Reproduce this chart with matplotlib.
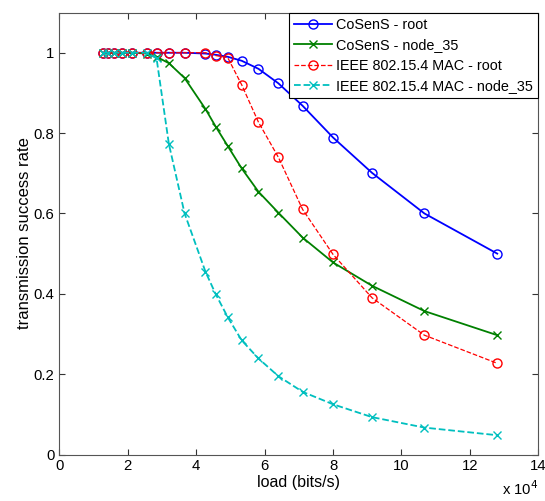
import matplotlib.pyplot as plt
from matplotlib.ticker import FuncFormatter

plt.rcParams['font.family'] = ['Liberation Sans', 'DejaVu Sans']

# load in units of 1e4 bits/s
load = [1.28, 1.42, 1.6, 1.83, 2.13, 2.56, 2.84, 3.2, 3.66, 4.27, 4.57, 4.92,
        5.33, 5.82, 6.4, 7.11, 8.0, 9.14, 10.67, 12.8]

cosens_root = [1.0, 1.0, 1.0, 1.0, 1.0, 1.0, 1.0, 1.0, 1.0, 0.998, 0.995, 0.99,
               0.98, 0.96, 0.924, 0.868, 0.789, 0.701, 0.60, 0.50]
cosens_node35 = [1.0, 1.0, 1.0, 1.0, 1.0, 0.998, 0.99, 0.974, 0.937, 0.86, 0.816, 0.768,
                 0.712, 0.654, 0.602, 0.54, 0.478, 0.42, 0.357, 0.297]
ieee_root = [1.0, 1.0, 1.0, 1.0, 1.0, 1.0, 1.0, 1.0, 1.0, 1.0, 0.993, 0.988,
             0.92, 0.827, 0.74, 0.61, 0.498, 0.39, 0.297, 0.227]
ieee_node35 = [1.0, 1.0, 1.0, 1.0, 1.0, 1.0, 0.986, 0.773, 0.60, 0.455, 0.399, 0.342,
               0.284, 0.239, 0.195, 0.156, 0.125, 0.093, 0.067, 0.048]

labels = ['CoSenS - root', 'CoSenS - node_35',
          'IEEE 802.15.4 MAC - root', 'IEEE 802.15.4 MAC - node_35']

fig = plt.figure(figsize=(5.45, 5.01), dpi=100)
ax = fig.add_axes([0.109, 0.0928, 0.8787, 0.8821])

ax.plot(load, cosens_root, '-o', color='#0000FF', lw=1.3, ms=6.5, mfc='none', mew=1.0, label=labels[0])
ax.plot(load, cosens_node35, '-x', color='#008000', lw=1.3, ms=6, mew=1.0, label=labels[1])
ax.plot(load, ieee_root, '--o', color='#FF0000', lw=0.9, ms=6.5, mfc='none', mew=1.0, label=labels[2])
ax.plot(load, ieee_node35, '--x', color='#00BFBF', lw=1.3, ms=6, mew=1.0, label=labels[3])

ax.set_xlim(0, 14)
ax.set_ylim(0, 1.1)
ax.set_xticks(range(0, 15, 2))
ax.set_yticks([0, 0.2, 0.4, 0.6, 0.8, 1.0])
ax.yaxis.set_major_formatter(FuncFormatter(lambda v, p: f'{v:g}'))
ax.tick_params(direction='in', top=True, right=True, length=4, width=0.8,
               labelsize=10.7, colors='#333333', labelcolor='black')
for s in ax.spines.values():
    s.set_color('#555555')
    s.set_linewidth(0.8)

ax.set_xlabel('load (bits/s)', fontsize=11.5, labelpad=1)
ax.set_ylabel('transmission success rate', fontsize=12, labelpad=1)
ax.text(1.0, -0.092, 'x 10$^4$', transform=ax.transAxes, ha='right', va='baseline', fontsize=10.7)

leg = ax.legend(loc='upper right', fontsize=10.4, handlelength=2.6, handletextpad=0.3,
                borderaxespad=0.0, borderpad=0.35, labelspacing=0.45, fancybox=False,
                framealpha=1, edgecolor='black')
leg.get_frame().set_linewidth(0.8)

fig.savefig('out.png', dpi=100)
